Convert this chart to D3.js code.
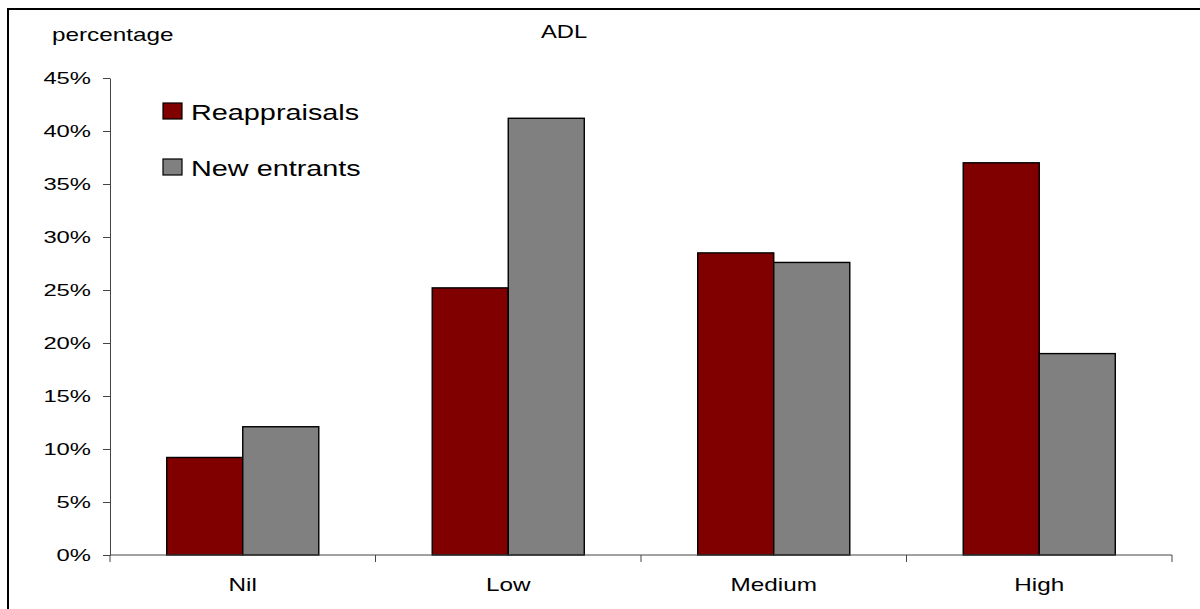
<!DOCTYPE html>
<html>
<head>
<meta charset="utf-8">
<script src="https://cdn.jsdelivr.net/npm/d3@7"></script>
<style>
  html, body { margin: 0; padding: 0; background: #fff; }
  svg { display: block; }
  text { font-family: "Liberation Sans", Arial, Helvetica, sans-serif; fill: #000; }
</style>
</head>
<body>
<svg id="chart" width="1200" height="609"></svg>
<script>
// ADL level distribution, share of each group
const categories = ["Nil", "Low", "Medium", "High"];
const seriesNames = ["Reappraisals", "New entrants"];
const reappraisals = [0.092, 0.252, 0.285, 0.370];
const newEntrants = [0.121, 0.412, 0.276, 0.190];
const yTicks = [0, 0.05, 0.10, 0.15, 0.20, 0.25, 0.30, 0.35, 0.40, 0.45];
const colors = ["#800000", "#808080"];

const svg = d3.select("#chart");
const W = 1200, H = 609;
const plot = { left: 110, right: 1172, top: 78, bottom: 555 };
const sx = 1.35; // wide lettering used throughout the chart

// outer frame (runs off the right and bottom edges)
svg.append("rect")
  .attr("x", 8).attr("y", 9)
  .attr("width", W).attr("height", H)
  .attr("fill", "none").attr("stroke", "#000").attr("stroke-width", 2);

const x = d3.scaleBand().domain(categories).range([plot.left, plot.right]).padding(0);
const xs = d3.scaleBand().domain(seriesNames).range([0, x.bandwidth()])
  .paddingInner(0).paddingOuter(0.746);
const y = d3.scaleLinear().domain([0, 0.45]).range([plot.bottom, plot.top]);

// wide text helper: anchor point stays at (px, py)
function wideText(g, px, py, str, size, anchor, stretch) {
  return g.append("text")
    .attr("transform", `translate(${px},${py}) scale(${stretch},1)`)
    .attr("text-anchor", anchor)
    .style("font-size", size + "px")
    .text(str);
}

// bars
const rows = categories.map((c, i) => ({ c, vals: [reappraisals[i], newEntrants[i]] }));
const groups = svg.append("g").selectAll("g").data(rows).join("g")
  .attr("transform", d => `translate(${x(d.c)},0)`);
groups.selectAll("rect")
  .data(d => d.vals.map((v, k) => ({ v, k })))
  .join("rect")
  .attr("x", d => xs(seriesNames[d.k]))
  .attr("width", xs.bandwidth())
  .attr("y", d => y(d.v))
  .attr("height", d => y(0) - y(d.v))
  .attr("fill", d => colors[d.k])
  .attr("stroke", "#000").attr("stroke-width", 1.4);

// y axis
const yAxis = svg.append("g")
  .attr("transform", `translate(${plot.left},0)`)
  .call(d3.axisLeft(y).tickValues(yTicks).tickFormat(d3.format(".0%")).tickSize(7).tickSizeOuter(0));
yAxis.selectAll("path, line").attr("stroke", "#444");
yAxis.selectAll("text")
  .attr("x", null).attr("dy", "0.34em")
  .attr("transform", `translate(-19,0) scale(${sx + 0.05},1)`)
  .style("font-size", "17px")
  .style("font-family", "'Liberation Sans', Arial, sans-serif")
  .attr("fill", "#000");

// x axis line with ticks at category boundaries
const xAxis = svg.append("g");
xAxis.append("line")
  .attr("x1", plot.left).attr("x2", plot.right)
  .attr("y1", y(0)).attr("y2", y(0))
  .attr("stroke", "#444");
const bounds = categories.map(c => x(c)).concat([x(categories[categories.length - 1]) + x.bandwidth()]);
xAxis.selectAll("line.tick").data(bounds).join("line")
  .attr("class", "tick")
  .attr("x1", d => d).attr("x2", d => d)
  .attr("y1", y(0)).attr("y2", y(0) + 7)
  .attr("stroke", "#444");
categories.forEach(c => {
  wideText(xAxis, x(c) + x.bandwidth() / 2, 591, c, 18, "middle", sx);
});

// titles
wideText(svg, 52, 41, "percentage", 18, "start", sx);
wideText(svg, 564, 38, "ADL", 19, "middle", 1.25);

// legend
const legend = svg.append("g");
const legendRows = [{ name: seriesNames[0], y: 103 }, { name: seriesNames[1], y: 159 }];
legendRows.forEach((r, k) => {
  legend.append("rect")
    .attr("x", 163).attr("y", r.y)
    .attr("width", 19).attr("height", 16)
    .attr("fill", colors[k]).attr("stroke", "#000").attr("stroke-width", 1.2);
  wideText(legend, 191, r.y + 16.5, r.name, 22, "start", 1.31);
});
</script>
</body>
</html>
